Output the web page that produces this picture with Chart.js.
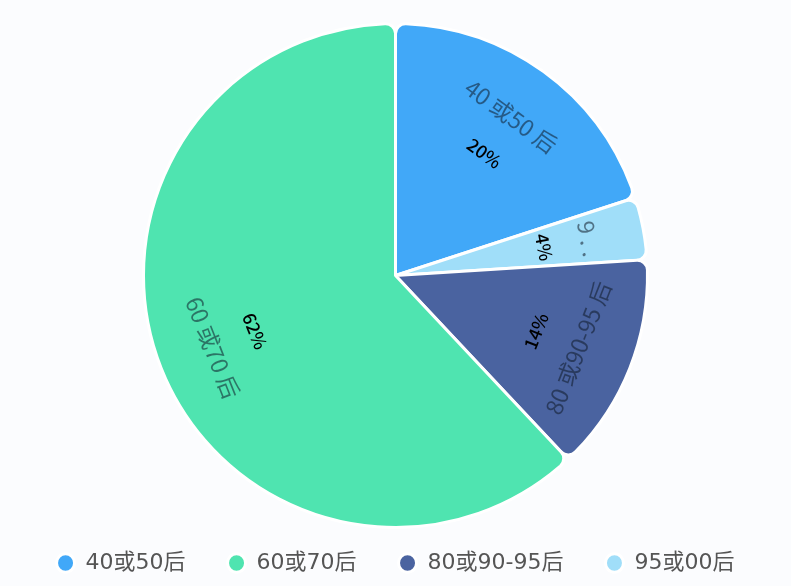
<!DOCTYPE html>
<html>
<head>
<meta charset="utf-8">
<script src="https://cdn.jsdelivr.net/npm/chart.js@4.4.0/dist/chart.umd.min.js"></script>
<style>
  html, body { margin: 0; padding: 0; background: #fbfcfe; }
  #wrap { width: 791px; height: 586px; }
</style>
</head>
<body>
<div id="wrap"><canvas id="pie"></canvas></div>
<script>
// slices in drawing order, clockwise from 12 o'clock
var categories = ["40或50后", "95或00后", "80或90-95后", "60或70后"];
var values = [20, 4, 14, 62];
var sliceNames = ["40 或50 后", "9 . .", "80 或90-95 后", "60 或70 后"];
var colors = ["#41a8f8", "#a0def9", "#4a63a0", "#4fe4b0"];
// legend shows them in this order
var legendOrder = ["40或50后", "60或70后", "80或90-95后", "95或00后"];

var fontFamily = "'Noto Sans CJK SC', 'Noto Sans', sans-serif";
var legendFont = "'DejaVu Sans', 'Noto Sans CJK SC', sans-serif";

var sliceLabels = {
	id: "sliceLabels",
	afterDatasetsDraw: function(chart) {
		var ctx = chart.ctx;
		var meta = chart.getDatasetMeta(0);
		meta.data.forEach(function(arc, i) {
			var p = arc.getProps(["x", "y", "startAngle", "endAngle", "outerRadius"], true);
			var mid = (p.startAngle + p.endAngle) / 2;
			var rot = mid + Math.PI / 2;
			rot = ((rot % (2 * Math.PI)) + 2 * Math.PI) % (2 * Math.PI);
			if (rot > Math.PI / 2 && rot <= 3 * Math.PI / 2) rot -= Math.PI;
			else if (rot > 3 * Math.PI / 2) rot -= 2 * Math.PI;

			function put(text, r, font, color) {
				ctx.save();
				ctx.translate(p.x + Math.cos(mid) * r, p.y + Math.sin(mid) * r);
				ctx.rotate(rot);
				ctx.font = font;
				ctx.fillStyle = color;
				ctx.textAlign = "center";
				ctx.textBaseline = "middle";
				ctx.fillText(text, 0, 0);
				ctx.restore();
			}
			put(sliceNames[i], p.outerRadius * 0.78, "23px " + fontFamily, "rgba(15,25,40,0.55)");
			put(values[i] + "%", p.outerRadius * 0.6, "500 18px " + fontFamily, "#000");
		});
	}
};

var ctx = document.getElementById("pie").getContext("2d");
var chart = new Chart(ctx, {
	type: "pie",
	data: {
		labels: categories,
		datasets: [{
			data: values,
			backgroundColor: colors,
			borderColor: "#ffffff",
			borderWidth: 3,
			borderRadius: 10,
			radius: 252
		}]
	},
	options: {
		responsive: true,
		maintainAspectRatio: false,
		animation: false,
		layout: { padding: { top: 41, bottom: 2 } },
		plugins: {
			tooltip: { enabled: false },
			legend: {
				position: "bottom",
				labels: {
					usePointStyle: true,
					pointStyle: "circle",
					pointStyleWidth: 18,
					boxHeight: 13,
					padding: 42,
					color: "#555",
					font: { size: 22, family: legendFont },
					sort: function(a, b) {
						return legendOrder.indexOf(a.text) - legendOrder.indexOf(b.text);
					}
				}
			}
		}
	},
	plugins: [sliceLabels]
});
</script>
</body>
</html>
